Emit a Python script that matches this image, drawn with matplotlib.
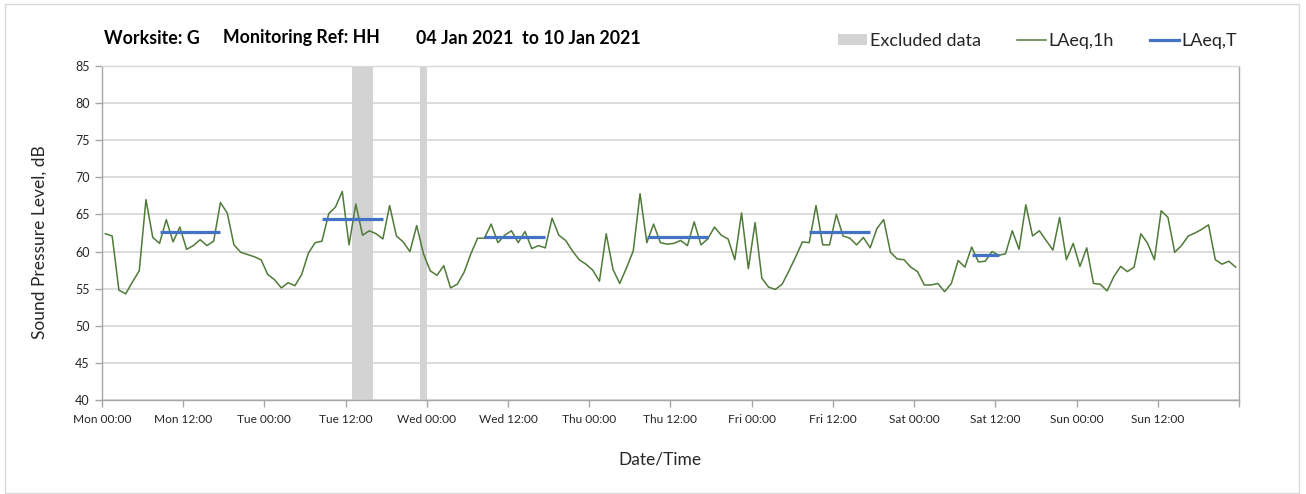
import matplotlib
matplotlib.use("Agg")
import matplotlib.pyplot as plt
from matplotlib.patches import Rectangle, Patch
from matplotlib.lines import Line2D
import numpy as np

# ---------------- data ----------------
hours = list(range(168))  # hourly categories, Mon 00:00 .. Sun 23:00

laeq_1h = [
    # Mon
    62.4, 62.1, 54.8, 54.3, 55.9, 57.4, 67.0, 61.9, 61.1, 64.3, 61.3, 63.3,
    60.3, 60.8, 61.6, 60.8, 61.4, 66.6, 65.2, 60.9, 59.9, 59.6, 59.3, 58.9,
    # Tue
    56.9, 56.2, 55.1, 55.8, 55.4, 56.9, 59.8, 61.2, 61.4, 65.1, 66.0, 68.1,
    60.9, 66.4, 62.2, 62.8, 62.4, 61.7, 66.2, 62.1, 61.3, 60.0, 63.5, 59.7,
    # Wed
    57.4, 56.8, 58.1, 55.1, 55.6, 57.2, 59.7, 61.8, 61.8, 63.7, 61.2, 62.2,
    62.8, 61.2, 62.7, 60.4, 60.8, 60.5, 64.5, 62.2, 61.5, 60.1, 58.9, 58.3,
    # Thu
    57.5, 56.0, 62.4, 57.6, 55.7, 57.8, 60.1, 67.8, 61.2, 63.7, 61.2, 61.0,
    61.1, 61.5, 60.8, 64.0, 60.9, 61.7, 63.3, 62.2, 61.7, 58.9, 65.2, 57.7,
    # Fri
    63.9, 56.4, 55.2, 54.9, 55.6, 57.4, 59.3, 61.3, 61.2, 66.2, 60.9, 60.9,
    65.0, 62.1, 61.8, 60.9, 61.9, 60.5, 63.1, 64.3, 59.9, 59.0, 58.9, 57.9,
    # Sat
    57.3, 55.5, 55.5, 55.7, 54.6, 55.7, 58.8, 57.9, 60.6, 58.6, 58.7, 60.0,
    59.5, 59.7, 62.8, 60.3, 66.3, 62.1, 62.8, 61.5, 60.2, 64.6, 58.9, 61.1,
    # Sun
    58.0, 60.5, 55.7, 55.6, 54.7, 56.6, 58.0, 57.3, 57.9, 62.4, 61.1, 58.9,
    65.5, 64.6, 59.9, 60.8, 62.1, 62.5, 63.0, 63.6, 58.9, 58.3, 58.7, 57.9,
]

# LAeq,T periods: first and last hourly category, level
laeq_t_start = [8, 32, 56, 80, 104, 128]
laeq_t_end = [17, 41, 65, 89, 113, 132]
laeq_t_level = [62.7, 64.4, 61.9, 61.9, 62.7, 59.6]

# excluded data periods (hours from Mon 00:00)
excl_start = [37, 47]
excl_end = [40, 48]

tick_hours = list(range(0, 169, 12))
tick_labels = ["Mon 00:00", "Mon 12:00", "Tue 00:00", "Tue 12:00", "Wed 00:00",
               "Wed 12:00", "Thu 00:00", "Thu 12:00", "Fri 00:00", "Fri 12:00",
               "Sat 00:00", "Sat 12:00", "Sun 00:00", "Sun 12:00", ""]
y_ticks = list(range(40, 86, 5))

# ---------------- style ----------------
plt.rcParams["font.family"] = ["Lato", "DejaVu Sans"]
GREEN = "#4f7a38"
BLUE = "#4472c4"
BAND = "#d3d3d3"
GRID = "#d9d9d9"
TXT = "#262626"

fig = plt.figure(figsize=(13.06, 4.94), dpi=100)
fig.patch.set_facecolor("white")
fig.add_artist(Rectangle((5 / 1306, 1 / 494), 1294 / 1306, 489 / 494,
                         transform=fig.transFigure, fill=False,
                         edgecolor="#d9d9d9", linewidth=1.0))

ax = fig.add_axes([102 / 1306, 1 - 400 / 494, 1137 / 1306, 334 / 494])

# excluded bands
for s, e in zip(excl_start, excl_end):
    ax.axvspan(s, e, color=BAND, linewidth=0, zorder=1)

x = np.array(hours) + 0.5
ax.plot(x, laeq_1h, color=GREEN, linewidth=1.1, zorder=3)

for s, e, lv in zip(laeq_t_start, laeq_t_end, laeq_t_level):
    ax.plot([s + 0.5, e + 0.5], [lv, lv], color=BLUE, linewidth=2.3,
            solid_capstyle="butt", zorder=4)

ax.set_xlim(0, 168)
ax.set_ylim(40, 85)
ax.set_yticks(y_ticks)
ax.set_yticklabels([str(v) for v in y_ticks])
ax.set_xticks(tick_hours)
ax.set_xticklabels(tick_labels)
ax.set_xticks(list(range(0, 169, 24)), minor=True)

ax.grid(axis="y", which="major", color=GRID, linewidth=1.3, zorder=0)
ax.grid(axis="x", which="minor", color=GRID, linewidth=1.3, zorder=0)
ax.set_axisbelow(True)

ax.tick_params(axis="x", which="major", direction="out", length=5, width=1,
               color="#a6a6a6", labelsize=8.6, labelcolor=TXT, pad=5)
ax.tick_params(axis="x", which="minor", length=0)
ax.tick_params(axis="y", direction="out", length=5, width=1,
               color="#a6a6a6", labelsize=9, labelcolor=TXT, pad=4)

for side in ["left", "bottom", "right", "top"]:
    ax.spines[side].set_color("#a6a6a6")
    ax.spines[side].set_linewidth(1.0)
ax.spines["top"].set_color(GRID)

ax.set_xlabel("Date/Time", fontsize=12.5, color=TXT)
ax.xaxis.set_label_coords(558 / 1137, -51 / 334)
ax.set_ylabel("Sound Pressure Level, dB", fontsize=12.5, color=TXT)
ax.yaxis.set_label_coords(-54 / 1137, 158 / 334)

# title pieces
TY = 1 - 38 / 494
fig.text(104 / 1306, TY, "Worksite: G", fontsize=12.8,
         fontweight="bold", color="black", va="center", ha="left")
fig.text(223 / 1306, TY, "Monitoring Ref: HH", fontsize=12.8,
         fontweight="bold", color="black", va="center", ha="left")
fig.text(416 / 1306, TY, "04 Jan 2021  to 10 Jan 2021", fontsize=12.8,
         fontweight="bold", color="black", va="center", ha="left")

# legend
handles = [Patch(facecolor=BAND, edgecolor="none", label="Excluded data"),
           Line2D([], [], color=GREEN, linewidth=1.1, label="LAeq,1h"),
           Line2D([], [], color=BLUE, linewidth=2.3, label="LAeq,T")]
leg = fig.legend(handles=handles, loc="center right",
                 bbox_to_anchor=(1250 / 1306, 1 - 41 / 494), ncol=3,
                 frameon=False, fontsize=13, handlelength=1.6,
                 handletextpad=0.15, columnspacing=2.0, handleheight=0.6,
                 borderpad=0.2)
for t in leg.get_texts():
    t.set_color(TXT)

fig.savefig("out.png", dpi=100, facecolor="white")
